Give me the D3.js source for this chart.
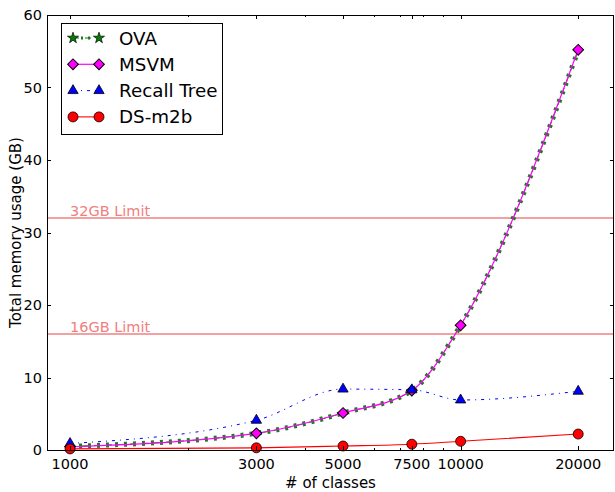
<!DOCTYPE html>
<html>
<head>
<meta charset="utf-8">
<script src="https://cdn.jsdelivr.net/npm/d3@7"></script>
<style>
  body { margin: 0; background: #fff; }
  svg { display: block; font-family: 'DejaVu Sans', sans-serif; }
</style>
</head>
<body>
<div id="chart"></div>
<script>
// values
const classes = [1000, 3000, 5000, 7500, 10000, 20000];
const ova = [0.5, 2.3, 5.1, 8.2, 17.2, 55.1];
const msvm = [0.45, 2.3, 5.1, 8.2, 17.2, 55.2];
const recallTree = [0.9, 4.1, 8.4, 8.3, 6.9, 8.1];
const dsm2b = [0.15, 0.3, 0.55, 0.8, 1.2, 2.2];

const limitValues = [32, 16];
const limitLabels = ['32GB Limit', '16GB Limit'];

const xTicks = [1000, 3000, 5000, 7500, 10000, 20000];
const xMinorTicks = [2000, 4000, 6000, 7000, 8000, 9000];
const yTicks = [0, 10, 20, 30, 40, 50, 60];

const W = 615, H = 492;
const pLeft = 47, pRight = 614, pTop = 15, pBottom = 450;

const svg = d3.select('#chart').append('svg')
   .attr('width', W)
   .attr('height', H);

const x = d3.scaleLog()
   .domain([873, 24700])
   .range([pLeft, pRight]);

const y = d3.scaleLinear()
   .domain([0, 60])
   .range([pBottom, pTop]);

const series = [
   { name: 'OVA', values: ova },
   { name: 'MSVM', values: msvm },
   { name: 'Recall Tree', values: recallTree },
   { name: 'DS-m2b', values: dsm2b }
];

const line = d3.line()
   .x(d => x(d[0]))
   .y(d => y(d[1]))
   .curve(d3.curveMonotoneX);

const pts = vals => classes.map((c, i) => [c, vals[i]]);

svg.append('defs').append('clipPath').attr('id', 'clip')
   .append('rect')
   .attr('x', pLeft).attr('y', pTop)
   .attr('width', pRight - pLeft).attr('height', pBottom - pTop);

const plot = svg.append('g').attr('clip-path', 'url(#clip)');

// memory limit lines
limitValues.forEach((v, i) => {
   plot.append('line')
      .attr('x1', pLeft).attr('x2', pRight)
      .attr('y1', y(v)).attr('y2', y(v))
      .attr('stroke', '#f08080')
      .attr('stroke-width', 1.3);
   svg.append('text')
      .attr('x', 70)
      .attr('y', y(v) - 2.5)
      .attr('font-size', '14.5px')
      .attr('fill', '#f08080')
      .text(limitLabels[i]);
});

// OVA: dashed green line with dense star markers
plot.append('path')
   .attr('d', line(pts(ova)))
   .attr('fill', 'none')
   .attr('stroke', '#008000')
   .attr('stroke-width', 1)
   .attr('stroke-dasharray', '6,6');
plot.append('path')
   .attr('d', line(pts(ova)))
   .attr('fill', 'none')
   .attr('stroke', '#1f7a1f')
   .attr('stroke-width', 5)
   .attr('stroke-dasharray', '3,6');

// MSVM
plot.append('path')
   .attr('d', line(pts(msvm)))
   .attr('fill', 'none')
   .attr('stroke', '#ff00ff')
   .attr('stroke-width', 1.2);

// Recall Tree
plot.append('path')
   .attr('d', line(pts(recallTree)))
   .attr('fill', 'none')
   .attr('stroke', '#0000ff')
   .attr('stroke-width', 1)
   .attr('stroke-dasharray', '3,5,1,5');

// DS-m2b
plot.append('path')
   .attr('d', line(pts(dsm2b)))
   .attr('fill', 'none')
   .attr('stroke', '#ff0000')
   .attr('stroke-width', 1.1);

const diamond = d3.symbol().type(d3.symbolSquare).size(58)();
const triangle = d3.symbol().type(d3.symbolTriangle).size(46)();
const star = d3.symbol().type(d3.symbolStar).size(38)();

const markers = svg.append('g');

markers.selectAll('.msvm-pt')
   .data(pts(msvm))
   .enter()
   .append('path')
      .attr('class', 'msvm-pt')
      .attr('d', diamond)
      .attr('transform', d => `translate(${x(d[0])},${y(d[1])}) rotate(45)`)
      .attr('fill', '#ff00ff')
      .attr('stroke', '#000')
      .attr('stroke-width', 1);

markers.selectAll('.rt-pt')
   .data(pts(recallTree))
   .enter()
   .append('path')
      .attr('class', 'rt-pt')
      .attr('d', triangle)
      .attr('transform', d => `translate(${x(d[0])},${y(d[1])})`)
      .attr('fill', '#0000ff')
      .attr('stroke', '#000')
      .attr('stroke-width', 0.8);

markers.selectAll('.ds-pt')
   .data(pts(dsm2b))
   .enter()
   .append('circle')
      .attr('class', 'ds-pt')
      .attr('cx', d => x(d[0]))
      .attr('cy', d => y(d[1]))
      .attr('r', 5)
      .attr('fill', '#ff0000')
      .attr('stroke', '#000')
      .attr('stroke-width', 0.8);

// frame and ticks (matplotlib classic: inward ticks on all sides)
const axes = svg.append('g').attr('stroke', '#000').attr('stroke-width', 1);

axes.append('rect')
   .attr('x', pLeft + 0.5).attr('y', pTop + 0.5)
   .attr('width', pRight - pLeft - 1).attr('height', pBottom - pTop)
   .attr('fill', 'none');

xTicks.forEach(t => {
   const px = Math.round(x(t)) + 0.5;
   axes.append('line').attr('x1', px).attr('x2', px).attr('y1', pBottom).attr('y2', pBottom - 4);
   axes.append('line').attr('x1', px).attr('x2', px).attr('y1', pTop).attr('y2', pTop + 4);
});
xMinorTicks.forEach(t => {
   const px = Math.round(x(t)) + 0.5;
   axes.append('line').attr('x1', px).attr('x2', px).attr('y1', pBottom).attr('y2', pBottom - 2);
   axes.append('line').attr('x1', px).attr('x2', px).attr('y1', pTop).attr('y2', pTop + 2);
});
yTicks.forEach(t => {
   const py = Math.round(y(t)) + 0.5;
   axes.append('line').attr('x1', pLeft).attr('x2', pLeft + 4).attr('y1', py).attr('y2', py);
   axes.append('line').attr('x1', pRight).attr('x2', pRight - 4).attr('y1', py).attr('y2', py);
});

const labels = svg.append('g').attr('font-size', '14.5px').attr('fill', '#000');

labels.selectAll('.xtick')
   .data(xTicks)
   .enter()
   .append('text')
      .attr('x', d => x(d))
      .attr('y', 469)
      .attr('text-anchor', 'middle')
      .text(d => d);

labels.selectAll('.ytick')
   .data(yTicks)
   .enter()
   .append('text')
      .attr('x', pLeft - 5)
      .attr('y', d => y(d))
      .attr('dy', '0.36em')
      .attr('text-anchor', 'end')
      .text(d => d);

svg.append('text')
   .attr('x', (pLeft + pRight) / 2)
   .attr('y', 488)
   .attr('font-size', '15px')
   .attr('text-anchor', 'middle')
   .text('# of classes');

svg.append('text')
   .attr('transform', `translate(21, ${(pTop + pBottom) / 2}) rotate(-90)`)
   .attr('font-size', '15px')
   .attr('text-anchor', 'middle')
   .text('Total memory usage (GB)');

// legend
const legend = svg.append('g').attr('transform', 'translate(61, 23)');

legend.append('rect')
   .attr('x', 0.5).attr('y', 0.5)
   .attr('width', 161).attr('height', 111)
   .attr('fill', '#fff')
   .attr('stroke', '#000')
   .attr('stroke-width', 1);

const rows = legend.selectAll('.legend-row')
   .data(series)
   .enter()
   .append('g')
      .attr('class', 'legend-row')
      .attr('transform', (d, i) => `translate(0, ${15 + i * 26.3})`);

rows.append('text')
   .attr('x', 58)
   .attr('y', 0)
   .attr('dy', '0.36em')
   .attr('font-size', '18.3px')
   .text(d => d.name);

const lx0 = 12, lx1 = 38;

// OVA sample
const r0 = rows.filter(d => d.name === 'OVA');
r0.append('line').attr('x1', lx0).attr('x2', lx1)
   .attr('stroke', '#008000').attr('stroke-width', 1).attr('stroke-dasharray', '6,6');
r0.append('line').attr('x1', lx0 + 8).attr('x2', lx1 - 4)
   .attr('stroke', '#1f7a1f').attr('stroke-width', 3).attr('stroke-dasharray', '2,5');
r0.selectAll('.s').data([lx0, lx1]).enter().append('path')
   .attr('d', star)
   .attr('transform', d => `translate(${d},0)`)
   .attr('fill', '#008000').attr('stroke', '#000').attr('stroke-width', 0.7);

const r1 = rows.filter(d => d.name === 'MSVM');
r1.append('line').attr('x1', lx0).attr('x2', lx1)
   .attr('stroke', '#ff00ff').attr('stroke-width', 1.2);
r1.selectAll('.s').data([lx0, lx1]).enter().append('path')
   .attr('d', diamond)
   .attr('transform', d => `translate(${d},0) rotate(45)`)
   .attr('fill', '#ff00ff').attr('stroke', '#000').attr('stroke-width', 1);

const r2 = rows.filter(d => d.name === 'Recall Tree');
r2.append('line').attr('x1', lx0).attr('x2', lx1)
   .attr('stroke', '#0000ff').attr('stroke-width', 1).attr('stroke-dasharray', '3,5,1,5');
r2.selectAll('.s').data([lx0, lx1]).enter().append('path')
   .attr('d', triangle)
   .attr('transform', d => `translate(${d},0)`)
   .attr('fill', '#0000ff').attr('stroke', '#000').attr('stroke-width', 0.8);

const r3 = rows.filter(d => d.name === 'DS-m2b');
r3.append('line').attr('x1', lx0).attr('x2', lx1)
   .attr('stroke', '#ff0000').attr('stroke-width', 1.1);
r3.selectAll('.s').data([lx0, lx1]).enter().append('circle')
   .attr('cx', d => d).attr('r', 5)
   .attr('fill', '#ff0000').attr('stroke', '#000').attr('stroke-width', 0.8);
</script>
</body>
</html>
